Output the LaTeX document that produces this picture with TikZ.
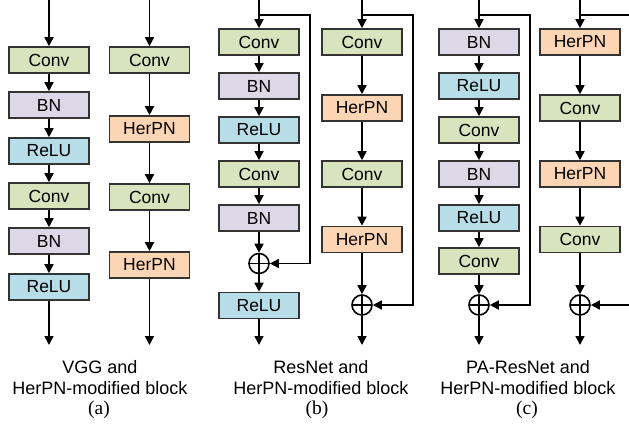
\documentclass[tikz,border=0pt]{standalone}
\usepackage{fontspec}
\setmainfont{Liberation Sans}
\newfontfamily\capserif{Liberation Serif}
\usetikzlibrary{arrows.meta}
\definecolor{convc}{HTML}{D7E4BD}
\definecolor{bnc}{HTML}{DDD8E8}
\definecolor{reluc}{HTML}{B7DEE8}
\definecolor{herpnc}{HTML}{FCD5B5}
\definecolor{edgec}{HTML}{333333}
\begin{document}
\begin{tikzpicture}[x=1pt,y=-1pt,
  blk/.style={draw=edgec, line width=1.6pt, minimum width=80pt, minimum height=26pt,
    inner sep=0pt, font=\fontsize{17.5}{20}\selectfont},
  conv/.style={blk, fill=convc},
  bn/.style={blk, fill=bnc},
  relu/.style={blk, fill=reluc},
  herpn/.style={blk, fill=herpnc},
  sum/.style={circle, draw=black, line width=1.6pt, minimum size=20pt, inner sep=0pt,
    path picture={\draw[line width=1.6pt]
      (path picture bounding box.north) -- (path picture bounding box.south)
      (path picture bounding box.west) -- (path picture bounding box.east);}},
  flow/.style={line width=1.6pt, -{Triangle[width=9pt,length=9pt]}},
  wire/.style={line width=1.6pt},
  captext/.style={anchor=base, font=\fontsize{18}{20}\selectfont, inner sep=0pt},
  capnum/.style={anchor=base, font=\capserif\fontsize{19.5}{22}\selectfont, inner sep=0pt}
]
\useasboundingbox (0,0) rectangle (629,426);

% ---------- (a) VGG block ----------
\coordinate (a1in) at (49,0);
\node[conv]  (a1n1) at (49,60)  {Conv};
\node[bn]    (a1n2) at (49,105) {BN};
\node[relu]  (a1n3) at (49,151) {ReLU};
\node[conv]  (a1n4) at (49,196) {Conv};
\node[bn]    (a1n5) at (49,241) {BN};
\node[relu]  (a1n6) at (49,287) {ReLU};
\coordinate (a1out) at (49,345);
\draw[flow] (a1in) -- (a1n1);
\draw[flow] (a1n1) -- (a1n2);
\draw[flow] (a1n2) -- (a1n3);
\draw[flow] (a1n3) -- (a1n4);
\draw[flow] (a1n4) -- (a1n5);
\draw[flow] (a1n5) -- (a1n6);
\draw[flow] (a1n6) -- (a1out);

% HerPN-modified VGG block
\coordinate (a2in) at (149.5,0);
\node[conv]  (a2n1) at (149.5,60)  {Conv};
\node[herpn] (a2n2) at (149.5,129) {HerPN};
\node[conv]  (a2n3) at (149.5,197) {Conv};
\node[herpn] (a2n4) at (149.5,265) {HerPN};
\coordinate (a2out) at (149.5,345);
\draw[flow] (a2in) -- (a2n1);
\draw[flow] (a2n1) -- (a2n2);
\draw[flow] (a2n2) -- (a2n3);
\draw[flow] (a2n3) -- (a2n4);
\draw[flow] (a2n4) -- (a2out);

% ---------- (b) ResNet block ----------
\coordinate (b1in) at (259,0);
\coordinate (b1br) at (259,15);
\node[conv]  (b1n1) at (259,42)  {Conv};
\node[bn]    (b1n2) at (259,86)  {BN};
\node[relu]  (b1n3) at (259,130) {ReLU};
\node[conv]  (b1n4) at (259,174) {Conv};
\node[bn]    (b1n5) at (259,218) {BN};
\node[sum]   (b1s)  at (259,263.5) {};
\node[relu]  (b1n6) at (259,305.5) {ReLU};
\coordinate (b1out) at (259,345);
\coordinate (b1k1) at (310,15);
\coordinate (b1k2) at (310,263.5);
\draw[flow] (b1in) -- (b1n1);
\draw[flow] (b1n1) -- (b1n2);
\draw[flow] (b1n2) -- (b1n3);
\draw[flow] (b1n3) -- (b1n4);
\draw[flow] (b1n4) -- (b1n5);
\draw[flow] (b1n5) -- (b1s);
\draw[flow] (b1s) -- (b1n6);
\draw[flow] (b1n6) -- (b1out);
\draw[flow] (b1br) -- (b1k1) -- (b1k2) -- (b1s);

% HerPN-modified ResNet block
\coordinate (b2in) at (362,0);
\coordinate (b2br) at (362,15);
\node[conv]  (b2n1) at (362,42)  {Conv};
\node[herpn] (b2n2) at (362,108) {HerPN};
\node[conv]  (b2n3) at (362,174) {Conv};
\node[herpn] (b2n4) at (362,239.5) {HerPN};
\node[sum]   (b2s)  at (362,305) {};
\coordinate (b2out) at (362,345);
\coordinate (b2k1) at (413,15);
\coordinate (b2k2) at (413,305);
\draw[flow] (b2in) -- (b2n1);
\draw[flow] (b2n1) -- (b2n2);
\draw[flow] (b2n2) -- (b2n3);
\draw[flow] (b2n3) -- (b2n4);
\draw[flow] (b2n4) -- (b2s);
\draw[flow] (b2s) -- (b2out);
\draw[flow] (b2br) -- (b2k1) -- (b2k2) -- (b2s);

% ---------- (c) pre-activation ResNet block ----------
\coordinate (c1in) at (479,0);
\coordinate (c1br) at (479,15);
\node[bn]    (c1n1) at (479,42)  {BN};
\node[relu]  (c1n2) at (479,86)  {ReLU};
\node[conv]  (c1n3) at (479,130) {Conv};
\node[bn]    (c1n4) at (479,174) {BN};
\node[relu]  (c1n5) at (479,218) {ReLU};
\node[conv]  (c1n6) at (479,261) {Conv};
\node[sum]   (c1s)  at (479,305) {};
\coordinate (c1out) at (479,345);
\coordinate (c1k1) at (530,15);
\coordinate (c1k2) at (530,305);
\draw[flow] (c1in) -- (c1n1);
\draw[flow] (c1n1) -- (c1n2);
\draw[flow] (c1n2) -- (c1n3);
\draw[flow] (c1n3) -- (c1n4);
\draw[flow] (c1n4) -- (c1n5);
\draw[flow] (c1n5) -- (c1n6);
\draw[flow] (c1n6) -- (c1s);
\draw[flow] (c1s) -- (c1out);
\draw[flow] (c1br) -- (c1k1) -- (c1k2) -- (c1s);

% HerPN-modified pre-activation block (shortcut runs past the right edge)
\coordinate (c2in) at (580,0);
\coordinate (c2br) at (580,15);
\node[herpn] (c2n1) at (580,42)  {HerPN};
\node[conv]  (c2n2) at (580,108) {Conv};
\node[herpn] (c2n3) at (580,174) {HerPN};
\node[conv]  (c2n4) at (580,239.5) {Conv};
\node[sum]   (c2s)  at (580,305) {};
\coordinate (c2out) at (580,345);
\coordinate (c2k1) at (629,15);
\coordinate (c2k2) at (629,305);
\draw[flow] (c2in) -- (c2n1);
\draw[flow] (c2n1) -- (c2n2);
\draw[flow] (c2n2) -- (c2n3);
\draw[flow] (c2n3) -- (c2n4);
\draw[flow] (c2n4) -- (c2s);
\draw[flow] (c2s) -- (c2out);
\draw[wire] (c2br) -- (c2k1);
\draw[flow] (c2k2) -- (c2s);

% ---------- captions ----------
\node[captext] (capa1) at (100,373) {VGG and};
\node[captext] (capa2) at (100,394) {HerPN-modified block};
\node[capnum]  (capa3) at (99,414)  {(a)};
\node[captext] (capb1) at (321,373) {ResNet and};
\node[captext] (capb2) at (321,394) {HerPN-modified block};
\node[capnum]  (capb3) at (317,414) {(b)};
\node[captext] (capc1) at (528,373) {PA-ResNet and};
\node[captext] (capc2) at (528,394) {HerPN-modified block};
\node[capnum]  (capc3) at (527,414) {(c)};
\end{tikzpicture}
\end{document}
